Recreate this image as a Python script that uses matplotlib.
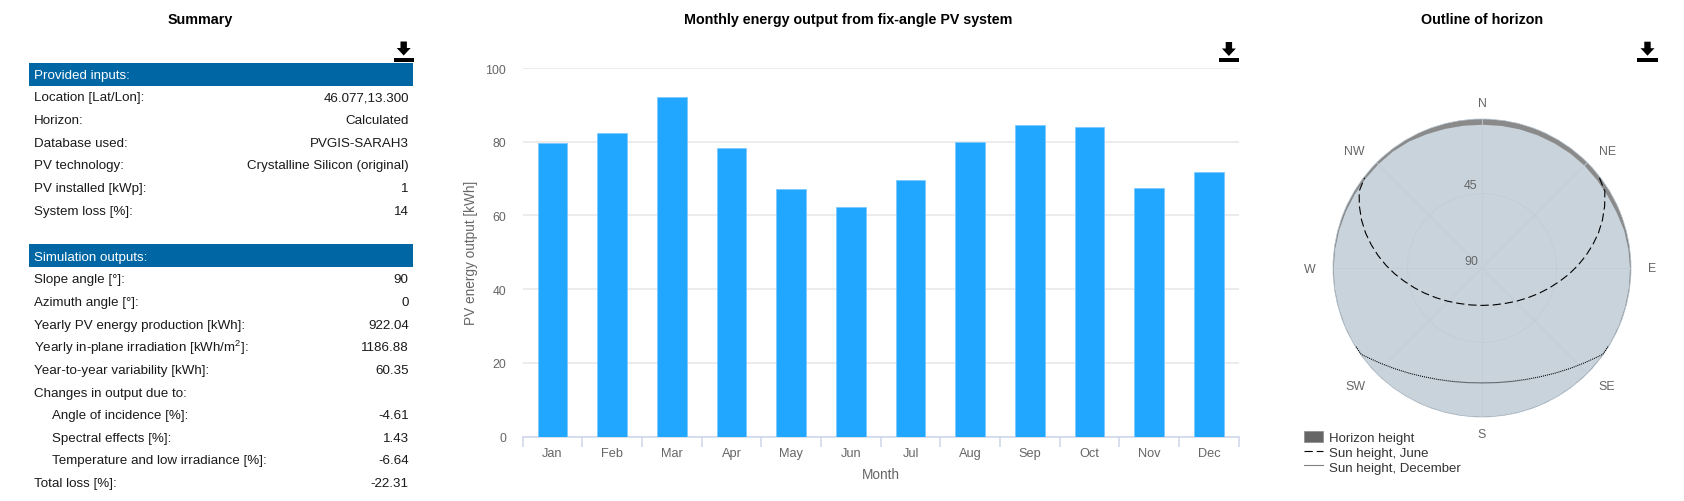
import numpy as np
import matplotlib
matplotlib.use("Agg")
import matplotlib.pyplot as plt
from matplotlib.patches import Rectangle, Polygon

plt.rcParams['font.family'] = ['Liberation Sans', 'DejaVu Sans']
plt.rcParams['mathtext.default'] = 'regular'

W, H = 1684, 502
PX = 0.72  # px -> pt at dpi 100

# ---- data ----
months = ['Jan','Feb','Mar','Apr','May','Jun','Jul','Aug','Sep','Oct','Nov','Dec']
energy = [79.6,82.3,92.2,78.2,67.2,62.3,69.6,79.8,84.4,84.1,67.4,71.8]
y_ticks = [0,20,40,60,80,100]

inputs_labels = ['Location [Lat/Lon]:','Horizon:','Database used:','PV technology:','PV installed [kWp]:','System loss [%]:']
inputs_values = ['46.077,13.300','Calculated','PVGIS-SARAH3','Crystalline Silicon (original)','1','14']
output_labels = ['Slope angle [°]:','Azimuth angle [°]:','Yearly PV energy production [kWh]:',
                 'Yearly in-plane irradiation [kWh/m$^2$]:','Year-to-year variability [kWh]:',
                 'Changes in output due to:','Angle of incidence [%]:','Spectral effects [%]:',
                 'Temperature and low irradiance [%]:','Total loss [%]:']
output_values = ['90','0','922.04','1186.88','60.35','','-4.61','1.43','-6.64','-22.31']
output_indent = [0,0,0,0,0,0,1,1,1,0]

# horizon height, degrees, every 7.5 deg clockwise from north
horizon_az = np.arange(0, 360, 7.5)
horizon_h = [3.2,3.1,3.0,2.9,2.8,2.6,2.5,2.6,2.6,2.2,1.4,1.1,0.9,0.8,0.8,0.7,
             0.7,0.7,0.6,0.6,0.5,0.5,0.5,0.4,0.4,0.3,0.3,0.2,0.1,0.0,0.0,0.0,
             0.0,0.0,0.0,0.0,0.1,0.2,0.4,0.6,0.8,0.9,1.0,1.0,1.4,2.2,2.7,3.0]

# sun paths: azimuth away from south, elevation (symmetric east/west)
june_az = [0,17.6,33.3,46.4,57.2,66.1,73.6,80.3,86.1,91.6,96.8,101.8,106.7,111.7,116.8,122.0,127.5]
june_el = [67.4,66.6,64.4,61.0,56.9,52.3,47.5,42.4,37.2,32.0,26.8,21.7,16.6,11.7,7.0,2.5,0.6]
dec_az = [0,7.3,14.6,21.6,28.4,34.9,41.1,47.0,52.6,54.5,58.0]
dec_el = [20.6,20.2,19.2,17.6,15.4,12.6,9.4,5.8,1.8,0.3,0.3]

compass = ['N','NE','E','SE','S','SW','W','NW']
legend_labels = ['Horizon height','Sun height, June','Sun height, December']

fig = plt.figure(figsize=(W/100, H/100), dpi=100, facecolor='white')

def axpx(x0, y0, x1, y1, **kw):
    return fig.add_axes([x0/W, 1-y1/H, (x1-x0)/W, (y1-y0)/H], **kw)

# ---- overlay in pixel coordinates for the table, titles and icons ----
page = axpx(0, 0, W, H)
page.set_xlim(0, W); page.set_ylim(H, 0); page.axis('off')

for cx, title in [(200, 'Summary'), (848, 'Monthly energy output from fix-angle PV system'), (1482, 'Outline of horizon')]:
    page.text(cx, 20, title, ha='center', va='center', fontsize=14.2*PX, fontweight='bold', color='black')

BLUE = '#0066a4'
TXT = '#1a1a1a'
FS = 13.4*PX
page.add_patch(Rectangle((29, 64), 384, 23, fc=BLUE, ec='none'))
page.add_patch(Rectangle((29, 245), 384, 22.7, fc=BLUE, ec='none'))
page.text(34.3, 76.5, 'Provided inputs:', color='white', fontsize=FS, va='center')
page.text(34.3, 258.5, 'Simulation outputs:', color='white', fontsize=FS, va='center')

for i, (l, v) in enumerate(zip(inputs_labels, inputs_values)):
    y = 98.5 + i*22.65
    page.text(34.3, y, l, color=TXT, fontsize=FS, va='center')
    page.text(408.7, y, v, color=TXT, fontsize=FS, va='center', ha='right')
for i, (l, v, ind) in enumerate(zip(output_labels, output_values, output_indent)):
    y = 280.3 + i*22.65
    page.text(52.3 if ind else 34.3, y, l, color=TXT, fontsize=FS, va='center')
    page.text(408.7, y, v, color=TXT, fontsize=FS, va='center', ha='right')

def icon(x0, y0):
    cx = x0 + 10.2
    page.add_patch(Rectangle((x0, y0+16), 20.5, 4, fc='black', ec='none'))
    page.add_patch(Polygon([(cx-3.2, y0), (cx+3.2, y0), (cx+3.2, y0+6.5), (cx+7, y0+6.5),
                            (cx, y0+14), (cx-7, y0+6.5), (cx-3.2, y0+6.5)], fc='black', ec='none'))
for pos in [(393.5, 42.5), (1218.7, 43), (1637.3, 42.7)]:
    icon(*pos)

# ---- bar chart ----
ax = axpx(522.7, 69, 1238.7, 437.5)
x = np.arange(len(months))
ax.bar(x, energy, width=0.5, color='#21a7ff', edgecolor='#7cc9ff', linewidth=0.6, zorder=3)
ax.set_xlim(-0.5, 11.5); ax.set_ylim(0, 100)
ax.set_yticks(y_ticks)
ax.set_xticks(x)
ax.set_xticklabels(months)
ax.set_xticks(np.arange(-0.5, 12, 1), minor=True)
ax.grid(axis='y', color='#e6e6e6', linewidth=1.5*PX, zorder=0)
ax.set_axisbelow(True)
for s in ['top', 'right', 'left']:
    ax.spines[s].set_visible(False)
ax.spines['bottom'].set_color('#ccd6eb'); ax.spines['bottom'].set_linewidth(1.5*PX)
ax.tick_params(axis='y', length=0, labelsize=12.4*PX, labelcolor='#666666', pad=12)
ax.tick_params(axis='x', which='major', length=0, labelsize=12.7*PX, labelcolor='#666666', pad=7.5)
ax.tick_params(axis='x', which='minor', length=10*PX, width=1.5*PX, color='#ccd6eb')
for lab in ax.get_yticklabels():
    lab.set_verticalalignment('center_baseline')
page.text(880.7, 475.5, 'Month', color='#666666', fontsize=13.6*PX, ha='center', va='center')
page.text(471, 253, 'PV energy output [kWh]', color='#666666', fontsize=13.6*PX, rotation=90, ha='center', va='center')

# ---- polar chart ----
pol = axpx(1333, 120, 1631, 418, projection='polar')
pol.set_theta_zero_location('N')
pol.set_theta_direction(-1)
pol.set_ylim(90, 0)
pol.set_facecolor('#8a8a8a')
pol.spines['polar'].set_color('#b4c2ce')
pol.spines['polar'].set_linewidth(0.5)

th = np.deg2rad(np.append(horizon_az, 360))
hh = np.array(horizon_h + horizon_h[:1])
pol.fill_between(th, hh, 90, color='#c8d3dc', linewidth=0, zorder=1)

pol.set_thetagrids(np.arange(0, 360, 45), [''] * 8)
pol.set_yticks([45, 90]); pol.set_yticklabels([])
pol.grid(True, color='#c2cdd7', linewidth=0.6, zorder=2)
pol.set_axisbelow(False)

# compass labels placed outside the rim, offsets in px (dx right, dy up)
label_off = [(0,16),(20.3,11.3),(21,0),(19.6,-12.6),(0,-17),(-21.6,-12.6),(-23,-1),(-22,11.6)]
for ang, name, (dx, dy) in zip(np.arange(0, 360, 45), compass, label_off):
    pol.annotate(name, (np.deg2rad(ang), 0), xytext=(dx*PX, dy*PX), textcoords='offset points',
                 ha='center', va='center', fontsize=12.4*PX, color='#666666', annotation_clip=False)
pol.annotate('45', (0, 45), xytext=(-11*PX, 8*PX), textcoords='offset points', ha='center', va='center',
             fontsize=12.4*PX, color='#666666', zorder=6)
pol.annotate('90', (0, 90), xytext=(-11*PX, 7*PX), textcoords='offset points', ha='center', va='center',
             fontsize=12.4*PX, color='#666666', zorder=6)

def path(az, el):
    a = np.array(az); e = np.array(el)
    t = np.deg2rad(np.concatenate([180-a[::-1], 180+a[1:]]))
    r = np.concatenate([e[::-1], e[1:]])
    return t, r

tj, rj = path(june_az, june_el)
l1, = pol.plot(tj, rj, color='black', lw=0.8, linestyle=(0, (7.5, 3.5)), zorder=5, clip_on=False)
td, rd = path(dec_az, dec_el)
l2, = pol.plot(td, rd, color='black', lw=0.8, linestyle=(0, (0.9, 0.9)), zorder=5, clip_on=False)

swatch = Rectangle((0, 0), 1, 1, fc='#666666', ec='#8a8a8a', lw=0.5)
page_leg = fig.legend([swatch, l1, l2], legend_labels, loc='upper left',
                      bbox_to_anchor=(1304.3/W, 1-431.5/H), frameon=False,
                      fontsize=13.3*PX, borderpad=0, borderaxespad=0,
                      handlelength=1.41, handleheight=1.0, handletextpad=0.45, labelspacing=0.1,
                      labelcolor='#333333')

fig.savefig('out.png', dpi=100)
